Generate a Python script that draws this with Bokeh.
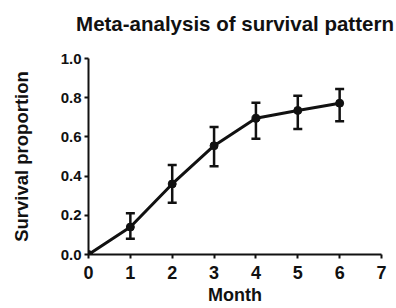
from bokeh.plotting import figure
from bokeh.models import ColumnDataSource, Whisker, TeeHead, FixedTicker, PrintfTickFormatter, Range1d, LinearAxis
from bokeh.embed import file_html
from bokeh.resources import INLINE

title_text = "Meta-analysis of survival pattern"
months = [0, 1, 2, 3, 4, 5, 6]
survival = [0.0, 0.14, 0.36, 0.555, 0.695, 0.735, 0.772]
upper = [0.0, 0.21, 0.457, 0.65, 0.774, 0.81, 0.845]
lower = [0.0, 0.08, 0.264, 0.45, 0.59, 0.64, 0.68]
x_ticks = [0, 1, 2, 3, 4, 5, 6, 7]
y_ticks = [0.0, 0.2, 0.4, 0.6, 0.8, 1.0]

src = ColumnDataSource(dict(x=months, y=survival, upper=upper, lower=lower))

FONT = "Liberation Sans"

p = figure(width=396, height=308, output_backend="svg", toolbar_location=None,
           x_range=Range1d(0, 7), y_range=Range1d(0, 1),
           min_border_left=88, min_border_right=15, min_border_top=58, min_border_bottom=54)
p.outline_line_color = None
p.grid.visible = False
p.background_fill_color = "white"
p.border_fill_color = "white"

bx = p.below[0]
ly = p.left[0]

for ax in (bx, ly):
    ax.axis_line_width = 2
    ax.axis_line_color = "#111111"
    ax.major_tick_line_width = 2
    ax.major_tick_line_color = "#111111"
    ax.major_tick_out = 4
    ax.major_tick_in = 0
    ax.minor_tick_line_color = None
    ax.major_label_text_font = FONT
    ax.major_label_text_font_style = "bold"
    ax.major_label_text_color = "#111111"
    ax.axis_label_text_font = FONT
    ax.axis_label_text_font_style = "bold"
    ax.axis_label_text_color = "#111111"

bx.ticker = FixedTicker(ticks=x_ticks)
ly.ticker = FixedTicker(ticks=y_ticks)
ly.formatter = PrintfTickFormatter(format="%.1f")
bx.major_label_text_font_size = "18px"
ly.major_label_text_font_size = "15px"
bx.major_label_standoff = 7
ly.major_label_standoff = 3
bx.axis_label = "Month"
ly.axis_label = "Survival proportion"
bx.axis_label_text_font_size = "18px"
ly.axis_label_text_font_size = "18.5px"
bx.axis_label_standoff = 3
ly.axis_label_standoff = 26

# title drawn as the label of an invisible axis above the frame
top_axis = LinearAxis(ticker=FixedTicker(ticks=[]), axis_label=title_text,
                      axis_line_color=None, major_tick_line_color=None,
                      major_tick_out=0, major_tick_in=0,
                      minor_tick_line_color=None, minor_tick_out=0, minor_tick_in=0,
                      major_label_text_font_size="0px",
                      major_label_standoff=0, axis_label_standoff=24,
                      axis_label_text_font=FONT, axis_label_text_font_style="bold",
                      axis_label_text_font_size="20.5px", axis_label_text_color="#111111")
p.add_layout(top_axis, "above")

w = Whisker(base="x", upper="upper", lower="lower", source=src,
            line_width=2.5, line_color="#111111",
            upper_head=TeeHead(size=9, line_width=2.5, line_color="#111111"),
            lower_head=TeeHead(size=9, line_width=2.5, line_color="#111111"))
p.add_layout(w)

p.line("x", "y", source=src, line_width=3, line_color="#111111")
p.scatter("x", "y", source=src, size=8, fill_color="#111111", line_color="#111111")

open("out.html", "w").write(file_html(p, INLINE))
